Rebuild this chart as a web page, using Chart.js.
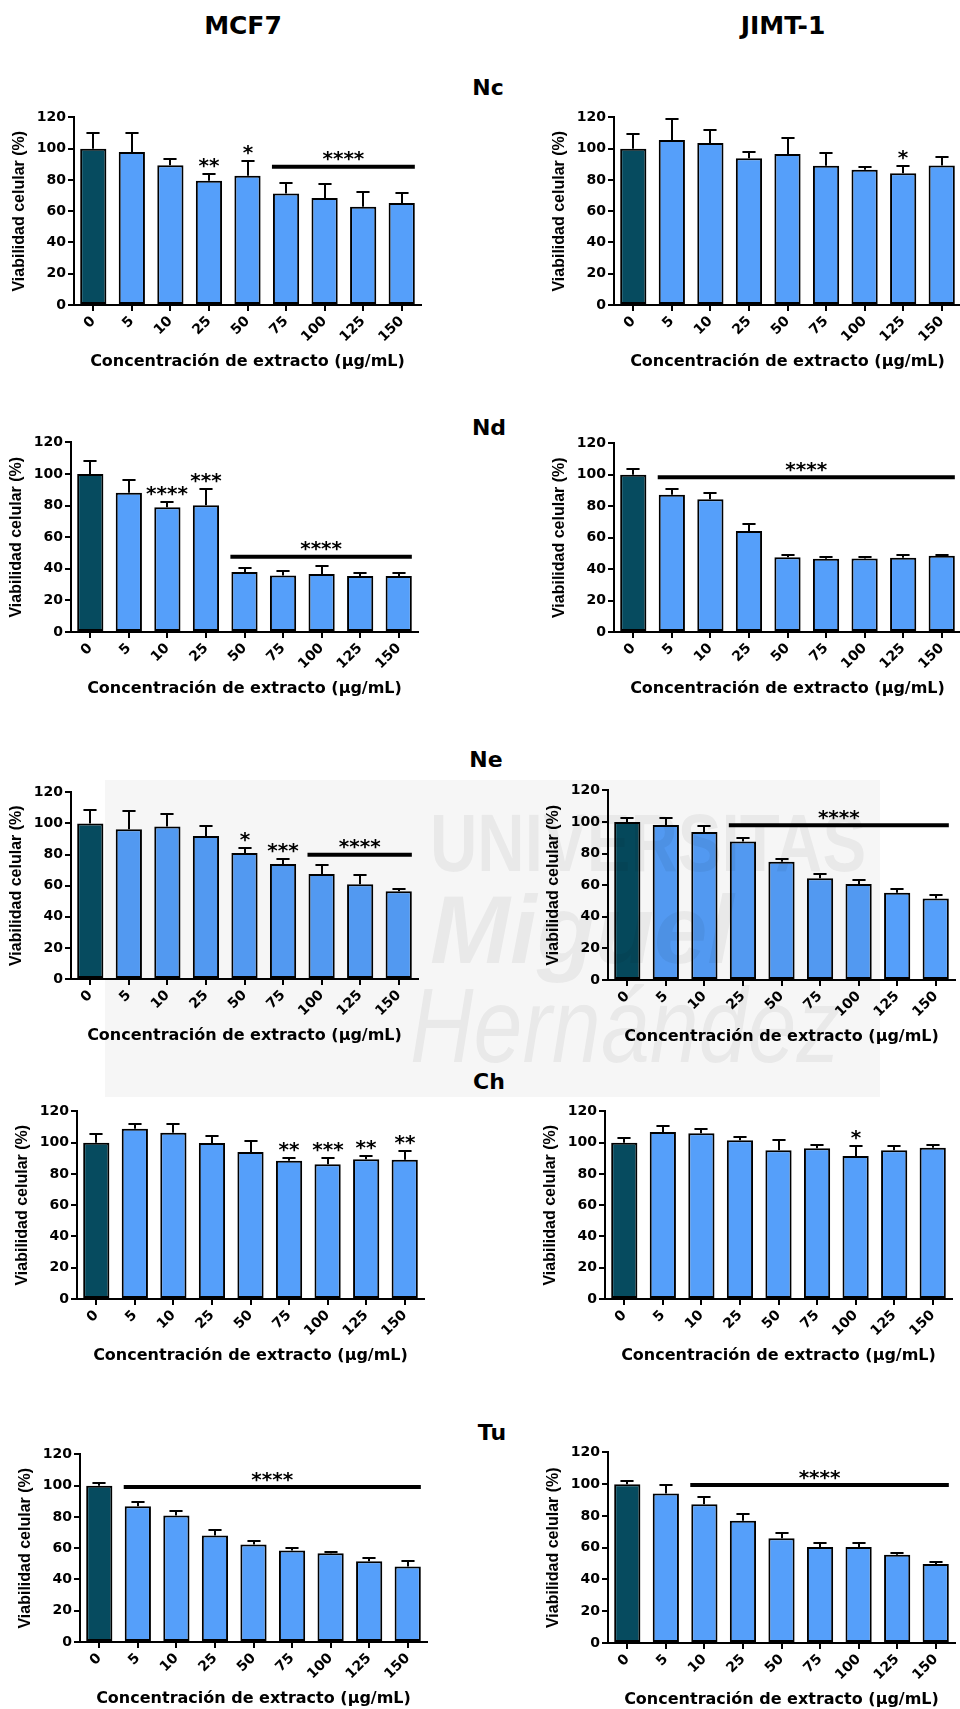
<!DOCTYPE html>
<html>
<head>
<meta charset="utf-8">
<title>Viabilidad celular MCF7 / JIMT-1</title>
<script src="https://cdn.jsdelivr.net/npm/chart.js@4.4.1/dist/chart.umd.min.js"></script>
<style>
  html, body { margin: 0; padding: 0; background: #fff; }
  body { position: relative; width: 960px; height: 1709px; overflow: hidden; }
  canvas { position: absolute; }
  .lbl { position: absolute; font-family: 'DejaVu Sans', sans-serif; font-weight: bold; color: #000;
         transform: translate(-50%, -50%); white-space: nowrap; line-height: 1; }
  .col { font-size: 25px; }
  .sec { font-size: 22px; }
  #wm { position: absolute; left: 105px; top: 780px; width: 775px; height: 317px; overflow: hidden;
        background: rgba(0,0,0,0.035); pointer-events: none; z-index: 5; }
  #wm span { position: absolute; color: rgba(0,0,0,0.055); white-space: nowrap; line-height: 1;
             font-family: 'Liberation Sans', sans-serif; transform-origin: 0 0; }
  #wm .u { left: 325px; top: 22px; font-size: 82px; font-weight: bold; transform: scaleX(0.8); }
  #wm .m { left: 325px; top: 102px; font-size: 96px; font-weight: bold; font-style: italic; }
  #wm .h { left: 305px; top: 192px; font-size: 106px; font-style: italic; transform: scaleX(0.83); }
</style>
</head>
<body>

<div class="lbl col" style="left:243px;top:25px">MCF7</div>
<div class="lbl col" style="left:783px;top:25px">JIMT-1</div>
<div class="lbl sec" style="left:488px;top:88px">Nc</div>
<div class="lbl sec" style="left:489px;top:428px">Nd</div>
<div class="lbl sec" style="left:486px;top:760px">Ne</div>
<div class="lbl sec" style="left:489px;top:1082px">Ch</div>
<div class="lbl sec" style="left:492px;top:1433px">Tu</div>

<script>
// Extract concentrations (µg/mL) on the x axis
const doses = ['0', '5', '10', '25', '50', '75', '100', '125', '150'];
const yTicks = [0, 20, 40, 60, 80, 100, 120];

// Cell viability (% of control), mean and SEM per concentration
const mcf7NcMean = [100, 97.8, 89.4, 79.5, 82.7, 71.4, 68.4, 62.9, 65.2];
const mcf7NcSem  = [10.2, 12.4, 3.7, 4.3, 9.4, 6.8, 8.8, 9.4, 6.4];
const mcf7NcStars = ['', '', '', '**', '*', '', '', '', ''];
const mcf7NcBracket = [5, 8, 88.5, '****'];

const jimtNcMean = [100, 105.5, 103.6, 93.8, 96.6, 89.1, 86.5, 84.2, 89.3];
const jimtNcSem  = [9.3, 13.6, 8.1, 4.0, 10.2, 7.9, 1.7, 4.5, 5.1];
const jimtNcStars = ['', '', '', '', '', '', '', '*', ''];
const jimtNcBracket = null;

const mcf7NdMean = [100, 88.1, 78.9, 80.3, 38.0, 35.7, 36.7, 35.5, 35.5];
const mcf7NdSem  = [8.3, 8.0, 3.1, 10.1, 2.7, 2.7, 5.3, 2.1, 1.6];
const mcf7NdStars = ['', '', '****', '***', '', '', '', '', ''];
const mcf7NdBracket = [4, 8, 47.6, '****'];

const jimtNdMean = [100, 87.4, 84.4, 64.3, 47.6, 46.6, 46.8, 47.2, 48.5];
const jimtNdSem  = [3.4, 3.4, 3.9, 4.5, 1.5, 1.4, 1.2, 1.7, 0.8];
const jimtNdStars = ['', '', '', '', '', '', '', '', ''];
const jimtNdBracket = [1, 8, 98.4, '****'];

const mcf7NeMean = [100, 96.3, 98.0, 91.9, 81.0, 74.0, 67.6, 61.0, 56.5];
const mcf7NeSem  = [8.9, 11.8, 8.4, 6.8, 3.4, 3.2, 5.5, 5.7, 1.5];
const mcf7NeStars = ['', '', '', '', '*', '***', '', '', ''];
const mcf7NeBracket = [6, 8, 79.9, '****'];

const jimtNeMean = [100, 98.1, 93.7, 87.6, 74.9, 64.4, 60.8, 55.2, 51.6];
const jimtNeSem  = [2.5, 4.4, 3.6, 2.1, 1.7, 2.8, 2.6, 2.7, 2.3];
const jimtNeStars = ['', '', '', '', '', '', '', '', ''];
const jimtNeBracket = [3, 8, 97.9, '****'];

const mcf7ChMean = [100, 108.9, 106.4, 99.8, 94.0, 88.5, 86.2, 89.4, 89.1];
const mcf7ChSem  = [5.5, 3.0, 5.7, 4.2, 6.9, 1.7, 4.0, 2.1, 5.6];
const mcf7ChStars = ['', '', '', '', '', '**', '***', '**', '**'];
const mcf7ChBracket = null;

const jimtChMean = [100, 106.8, 106.0, 101.5, 95.1, 96.4, 91.5, 95.1, 96.8];
const jimtChSem  = [2.8, 4.1, 2.7, 2.3, 6.4, 2.1, 6.6, 2.8, 1.9];
const jimtChStars = ['', '', '', '', '', '', '*', '', ''];
const jimtChBracket = null;

const mcf7TuMean = [100, 86.8, 80.9, 68.1, 62.3, 58.5, 56.8, 51.7, 48.3];
const mcf7TuSem  = [1.7, 3.0, 2.7, 3.4, 2.4, 1.9, 0.6, 1.9, 3.8];
const mcf7TuStars = ['', '', '', '', '', '', '', '', ''];
const mcf7TuBracket = [1, 8, 99.1, '****'];

const jimtTuMean = [100, 94.2, 87.4, 76.9, 66.0, 60.5, 60.5, 55.5, 49.8];
const jimtTuSem  = [2.2, 5.4, 4.4, 4.6, 3.1, 2.5, 2.5, 1.0, 1.3];
const jimtTuStars = ['', '', '', '', '', '', '', '', ''];
const jimtTuBracket = [2, 8, 99.4, '****'];

// Panels in reading order, with the plot-area box [left, top, right, bottom] of each
const panels = [
  { mean: mcf7NcMean, sem: mcf7NcSem, stars: mcf7NcStars, bracket: mcf7NcBracket, box: [74, 117, 421, 305] },
  { mean: jimtNcMean, sem: jimtNcSem, stars: jimtNcStars, bracket: jimtNcBracket, box: [614, 117, 961, 305] },
  { mean: mcf7NdMean, sem: mcf7NdSem, stars: mcf7NdStars, bracket: mcf7NdBracket, box: [71, 442, 418, 632] },
  { mean: jimtNdMean, sem: jimtNdSem, stars: jimtNdStars, bracket: jimtNdBracket, box: [614, 443, 961, 632] },
  { mean: mcf7NeMean, sem: mcf7NeSem, stars: mcf7NeStars, bracket: mcf7NeBracket, box: [71, 792, 418, 979] },
  { mean: jimtNeMean, sem: jimtNeSem, stars: jimtNeStars, bracket: jimtNeBracket, box: [608, 790, 955, 980] },
  { mean: mcf7ChMean, sem: mcf7ChSem, stars: mcf7ChStars, bracket: mcf7ChBracket, box: [77, 1111, 424, 1299] },
  { mean: jimtChMean, sem: jimtChSem, stars: jimtChStars, bracket: jimtChBracket, box: [605, 1111, 952, 1299] },
  { mean: mcf7TuMean, sem: mcf7TuSem, stars: mcf7TuStars, bracket: mcf7TuBracket, box: [80, 1454, 427, 1642] },
  { mean: jimtTuMean, sem: jimtTuSem, stars: jimtTuStars, bracket: jimtTuBracket, box: [608, 1452, 955, 1643] }
];

const CONTROL = '#064b5f';
const TREATED = '#559ffa';
const AXIS_W = 72, XAXIS_H = 76, PAD_T = 10, PAD_R = 4;
const STAR_FONT = 'bold 20px "DejaVu Sans"';

// Upper SEM whiskers, significance asterisks and group brackets
const annotate = {
  id: 'annotate',
  afterDatasetsDraw(chart) {
    const p = chart.options.plugins.annotate.panel;
    const { ctx } = chart;
    const y = chart.scales.y;
    const bars = chart.getDatasetMeta(0).data;
    ctx.save();
    ctx.strokeStyle = '#000';
    ctx.fillStyle = '#000';
    ctx.lineWidth = 2;
    ctx.font = STAR_FONT;
    ctx.textAlign = 'center';
    ctx.textBaseline = 'alphabetic';
    p.mean.forEach((m, i) => {
      const bar = bars[i];
      const cx = Math.round(bar.x);
      const half = bar.width / 4;
      const yTop = Math.round(y.getPixelForValue(m + p.sem[i]));
      const yMean = y.getPixelForValue(m);
      ctx.beginPath();
      ctx.moveTo(cx, yMean);
      ctx.lineTo(cx, yTop);
      ctx.moveTo(cx - half, yTop);
      ctx.lineTo(cx + half, yTop);
      ctx.stroke();
      if (p.stars[i]) {
        ctx.fillText(p.stars[i], cx, yTop - 14 + 12);
      }
    });
    if (p.bracket) {
      const [from, to, level, label] = p.bracket;
      const x0 = bars[from].x - bars[from].width / 2 - 1;
      const x1 = bars[to].x + bars[to].width / 2;
      const yl = y.getPixelForValue(level);
      ctx.lineWidth = 4;
      ctx.beginPath();
      ctx.moveTo(x0, yl);
      ctx.lineTo(x1, yl);
      ctx.stroke();
      ctx.fillText(label, (x0 + x1) / 2, yl - 13.5 + 12);
    }
    ctx.restore();
  }
};

const tickFont = { family: 'DejaVu Sans', weight: 'bold', size: 14 };

panels.forEach(p => {
  const [L, T, R, B] = p.box;
  const cv = document.createElement('canvas');
  const w = R - L + AXIS_W + PAD_R;
  const h = B - T + PAD_T + XAXIS_H;
  cv.width = w; cv.height = h;
  cv.style.left = (L - AXIS_W) + 'px';
  cv.style.top = (T - PAD_T) + 'px';
  cv.style.width = w + 'px';
  cv.style.height = h + 'px';
  document.body.appendChild(cv);

  new Chart(cv, {
    type: 'bar',
    data: {
      labels: doses,
      datasets: [{
        data: p.mean,
        backgroundColor: doses.map((_, i) => i === 0 ? CONTROL : TREATED),
        borderColor: '#000',
        borderWidth: 2,
        borderSkipped: false,
        barPercentage: 0.68,
        categoryPercentage: 1
      }]
    },
    options: {
      responsive: false,
      animation: false,
      devicePixelRatio: 1,
      layout: { padding: { top: PAD_T, right: PAD_R, left: 0, bottom: 0 } },
      plugins: {
        legend: { display: false },
        tooltip: { enabled: false },
        annotate: { panel: p }
      },
      scales: {
        x: {
          grid: { display: true, offset: false, drawOnChartArea: false, drawTicks: true,
                  tickLength: 6, color: '#000', lineWidth: 2 },
          border: { display: true, color: '#000', width: 2 },
          ticks: { color: '#000', font: tickFont, minRotation: 45, maxRotation: 45,
                   autoSkip: false, padding: 2 },
          title: { display: true, text: 'Concentración de extracto (µg/mL)', color: '#000',
                   font: { family: 'DejaVu Sans', weight: 'bold', size: 16 },
                   padding: { top: 0, bottom: 10 } },
          afterFit(s) { s.height = XAXIS_H; }
        },
        y: {
          min: yTicks[0],
          max: yTicks[yTicks.length - 1],
          afterBuildTicks(s) { s.ticks = yTicks.map(v => ({ value: v })); },
          grid: { display: true, drawOnChartArea: false, drawTicks: true,
                  tickLength: 6, color: '#000', lineWidth: 2 },
          border: { display: true, color: '#000', width: 2 },
          ticks: { color: '#000', font: tickFont, padding: 2 },
          title: { display: true, text: 'Viabilidad celular (%)', color: '#000',
                   font: { family: 'Liberation Sans', weight: 'bold', size: 16 },
                   padding: { top: 8, bottom: 0 } },
          afterFit(s) { s.width = AXIS_W; }
        }
      }
    },
    plugins: [annotate]
  });
});
</script>

<div id="wm">
  <span class="u">UNIVERSITAS</span>
  <span class="m">Miguel</span>
  <span class="h">Hernández</span>
</div>
</body>
</html>
